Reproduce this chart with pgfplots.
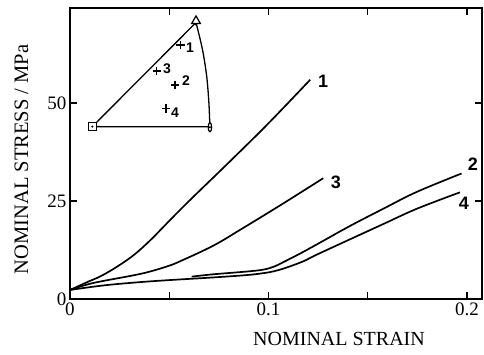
\documentclass[border=0pt]{standalone}
\usepackage{fontspec}
\setmainfont{Liberation Serif}
\newfontfamily\lsans{Liberation Sans}
\usepackage{pgfplots}
\pgfplotsset{compat=1.18}
\begin{document}
\begin{tikzpicture}
\useasboundingbox (-70pt,-55pt) rectangle (414pt,299pt);
\begin{axis}[
  scale only axis, width=412pt, height=291pt,
  at={(0pt,0pt)}, anchor=south west,
  xmin=0, xmax=0.2076, ymin=0, ymax=74.2,
  xtick={0,0.05,0.1,0.15,0.2}, xticklabels={0,,0.1,,0.2},
  ytick={0,25,50}, yticklabels={0,25,50},
  /pgf/number format/assume math mode=true,
  tick align=inside, major tick length=7pt,
  tick style={black, line width=1.2pt},
  axis line style={line width=1.5pt},
  ticklabel style={font=\fontsize{19}{19}\selectfont},
  xlabel={NOMINAL STRAIN},
  ylabel={NOMINAL STRESS / MPa},
  every axis x label/.style={at={(axis description cs:0.653,0)}, anchor=center, yshift=-40pt, font=\fontsize{20}{20}\selectfont},
  every axis y label/.style={at={(axis description cs:-0.118,0.48)}, anchor=center, rotate=90, font=\fontsize{20.5}{20.5}\selectfont},
  clip=false,
]
% curve 1
\addplot[black, line width=1.7pt, smooth, tension=0.6] coordinates {
 (0,2.3) (0.0091,4.4) (0.0158,5.9) (0.0242,8.4) (0.0326,11.4) (0.0409,15.2)
 (0.0494,19.6) (0.06,25.0) (0.08,34.8) (0.10,44.8) (0.121,55.9)};
% curve 3
\addplot[black, line width=1.7pt, smooth, tension=0.6] coordinates {
 (0,2.3) (0.008,3.6) (0.0157,4.5) (0.0326,6.1) (0.041,7.1) (0.0494,8.4)
 (0.0554,9.6) (0.0722,13.6) (0.0856,17.6) (0.1066,24.1) (0.1276,30.8)};
% curve 4
\addplot[black, line width=1.7pt, smooth, tension=0.6] coordinates {
 (0,2.3) (0.0158,3.4) (0.0326,4.2) (0.0494,4.8) (0.0722,5.5) (0.089,6.1)
 (0.0975,6.6) (0.103,7.1) (0.109,8.0) (0.1175,9.6) (0.1243,11.3) (0.141,15.2)
 (0.1578,19.1) (0.1747,23.0) (0.1965,27.2)};
% curve 2
\addplot[black, line width=1.7pt, smooth, tension=0.6] coordinates {
 (0.0613,5.7) (0.0722,6.3) (0.089,7.0) (0.0975,7.5) (0.1030,8.3) (0.1075,9.4)
 (0.1160,11.6) (0.1243,13.9) (0.141,18.6) (0.1578,23.0) (0.1747,27.3) (0.1973,32.0)};
% curve labels
\node[font=\lsans\bfseries\fontsize{18}{18}\selectfont] at (axis cs:0.1275,55.6) {1};
\node[font=\lsans\bfseries\fontsize{18}{18}\selectfont] at (axis cs:0.134,29.8) {3};
\node[font=\lsans\bfseries\fontsize{18}{18}\selectfont] at (axis cs:0.203,34.4) {2};
\node[font=\lsans\bfseries\fontsize{18}{18}\selectfont] at (axis cs:0.1985,24.5) {4};
% inset triangle
\addplot[black, line width=1.3pt] coordinates {(0.01124,43.95) (0.0635,70.5)};
\addplot[black, line width=1.3pt] coordinates {(0.01124,43.95) (0.0705,43.9)};
\addplot[black, line width=1.3pt, smooth] coordinates {
 (0.0635,70.5) (0.0668,63.5) (0.0689,56.7) (0.0700,49.9) (0.0705,43.8)};
\addplot[only marks, mark=square*, mark size=4pt, mark options={fill=white, draw=black, line width=1.2pt}] coordinates {(0.01124,43.95)};
\addplot[only marks, mark=triangle*, mark size=5pt, mark options={fill=white, draw=black, line width=1.2pt}] coordinates {(0.0635,70.9)};
\addplot[only marks, mark=*, mark size=3.5pt, mark options={fill=white, draw=black, line width=1.2pt, xscale=0.5, yscale=1.3}] coordinates {(0.0705,43.8)};
\addplot[only marks, mark=*, mark size=0.8pt, black] coordinates {(0.01124,43.95) (0.0635,70.0) (0.0705,43.8)};
\addplot[only marks, mark=+, mark size=4.2pt, mark options={line width=1.5pt}, black] coordinates {
 (0.0557,64.8) (0.0437,58.2) (0.0529,54.6) (0.0484,48.6)};
\node[font=\lsans\bfseries\fontsize{14}{14}\selectfont] at (axis cs:0.0605,64.2) {1};
\node[font=\lsans\bfseries\fontsize{14}{14}\selectfont] at (axis cs:0.0489,58.6) {3};
\node[font=\lsans\bfseries\fontsize{14}{14}\selectfont] at (axis cs:0.0584,55.6) {2};
\node[font=\lsans\bfseries\fontsize{14}{14}\selectfont] at (axis cs:0.0529,47.4) {4};
\end{axis}
\end{tikzpicture}
\end{document}
